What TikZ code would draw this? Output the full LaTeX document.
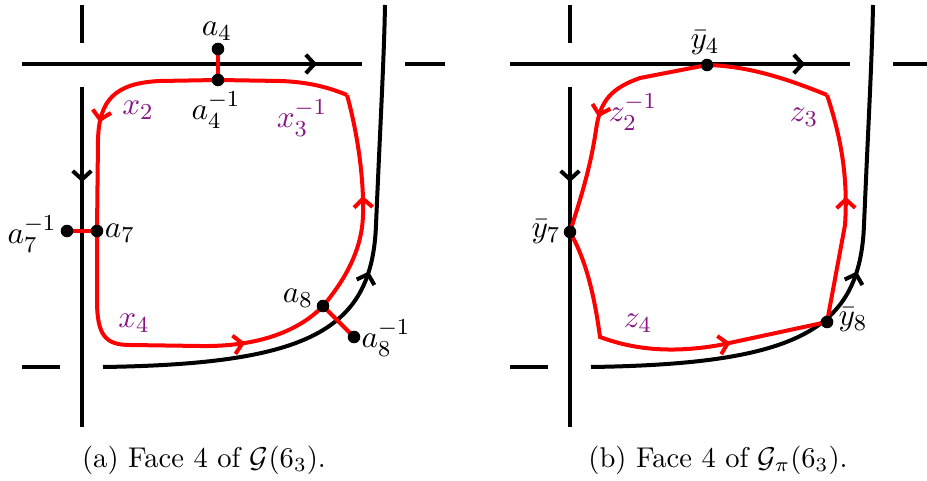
\documentclass[tikz,border=0pt]{standalone}
\usetikzlibrary{arrows.meta,decorations.markings}
\definecolor{lab}{RGB}{135,20,135}
\tikzset{
  knot/.style={line width=1.4pt, black},
  rpath/.style={line width=1.4pt, red},
  dot/.style={circle, fill=black, inner sep=0pt, minimum size=4.4pt},
  lbl/.style={font=\fontsize{11}{13}\selectfont, inner sep=0pt},
  plbl/.style={lbl, text=lab},
  capstyle/.style={font=\normalsize, inner sep=0pt},
  midarrow/.style={postaction={decorate}, decoration={markings,
    mark=at position #1 with {\arrow{Straight Barb[length=3pt,width=6.5pt]}}}}
}
\newcommand{\knotsdraw}[1]{%
  \coordinate (#1hA) at (22,64); \coordinate (#1hB) at (362,64);
  \draw[knot, midarrow=0.868] (#1hA) -- (#1hB);
  \coordinate (#1hC) at (405,64); \coordinate (#1hD) at (445,64);
  \draw[knot] (#1hC) -- (#1hD);
  \coordinate (#1vA) at (82,5); \coordinate (#1vB) at (82,43);
  \draw[knot] (#1vA) -- (#1vB);
  \coordinate (#1vC) at (82,87); \coordinate (#1vD) at (82,427);
  \draw[knot, midarrow=0.28] (#1vC) -- (#1vD);
  \coordinate (#1bA) at (22,367); \coordinate (#1bB) at (60,367);
  \draw[knot] (#1bA) -- (#1bB);
  \coordinate (#1cA) at (103,367); \coordinate (#1cM) at (376,225); \coordinate (#1cB) at (385,5);
  \draw[knot, midarrow=0.53] (#1cA) .. controls (310,364) and (372,330) .. (#1cM)
     .. controls (380,130) and (384,60) .. (#1cB);
}
\begin{document}
\begin{tikzpicture}[x=0.35pt,y=-0.35pt]
\useasboundingbox (0,0) rectangle (927,481);
% ---------- left panel ----------
\knotsdraw{L}
\coordinate (a4) at (218,49);
\coordinate (a4i) at (218,80);
\coordinate (a7) at (97,231);
\coordinate (a7i) at (67,231);
\coordinate (a8) at (323,306);
\coordinate (a8i) at (354,337);
\coordinate (k1) at (347,95);
\draw[rpath] (a4i) -- (280,81) .. controls (310,82) and (330,88) .. (k1);
\draw[rpath, midarrow=0.54] (a8) .. controls (345,280) and (362,250) .. (363,215)
   .. controls (364,180) and (358,135) .. (k1);
\draw[rpath, midarrow=0.74] (a7) -- (97,300) .. controls (97,335) and (105,345) .. (130,345)
   -- (200,346) .. controls (260,347) and (300,330) .. (a8);
\draw[rpath, midarrow=0.56] (a4i) -- (160,81) .. controls (115,83) and (99,100) .. (98,140) -- (a7);
\draw[rpath] (a4) -- (a4i);
\draw[rpath] (a7i) -- (a7);
\draw[rpath] (a8) -- (a8i);
\foreach \p in {a4,a4i,a7,a7i,a8,a8i} \node[dot] (d\p) at (\p) {};
\node[lbl] (la4) at (217,31) {$a_4$};
\node[lbl] (la4i) at (216,110) {$a_4^{-1}$};
\node[plbl] (lx2) at (138,110) {$x_2$};
\node[plbl] (lx3) at (302,118) {$x_3^{-1}$};
\node[lbl] (la7) at (120,233) {$a_7$};
\node[lbl] (la7i) at (32,234) {$a_7^{-1}$};
\node[plbl] (lx4) at (134,323) {$x_4$};
\node[lbl] (la8) at (298,298) {$a_8$};
\node[lbl] (la8i) at (386,338) {$a_8^{-1}$};
\node[capstyle] (capa) at (204,460) {(a) Face 4 of $\mathcal{G}(6_3)$.};
% ---------- right panel ----------
\begin{scope}[xshift=170.8pt]
\knotsdraw{R}
\end{scope}
\coordinate (y4) at (707,65);
\coordinate (y7) at (570,232);
\coordinate (y8) at (827,322);
\coordinate (k2) at (827,95);
\coordinate (k3) at (600,337);
\draw[rpath] (y4) .. controls (750,66) and (790,80) .. (k2);
\draw[rpath, midarrow=0.55] (y8) -- (845,225) .. controls (848,180) and (842,140) .. (k2);
\draw[rpath, midarrow=0.71] (y7) .. controls (583,255) and (593,285) .. (k3)
   .. controls (640,352) and (680,352) .. (720,345) -- (y8);
\draw[rpath, midarrow=0.52] (y4) -- (640,78) .. controls (612,88) and (600,100) .. (596,130)
   .. controls (590,170) and (580,200) .. (y7);
\foreach \p in {y4,y7,y8} \node[dot] (d\p) at (\p) {};
\node[lbl] (ly4) at (705,43) {$\bar{y}_4$};
\node[plbl] (lz2) at (633,112) {$z_2^{-1}$};
\node[plbl] (lz3) at (804,117) {$z_3$};
\node[lbl] (ly7) at (546,232) {$\bar{y}_7$};
\node[plbl] (lz4) at (638,323) {$z_4$};
\node[lbl] (ly8) at (853,320) {$\bar{y}_8$};
\node[capstyle] (capb) at (718,460) {(b) Face 4 of $\mathcal{G}_\pi(6_3)$.};
\end{tikzpicture}
\end{document}
